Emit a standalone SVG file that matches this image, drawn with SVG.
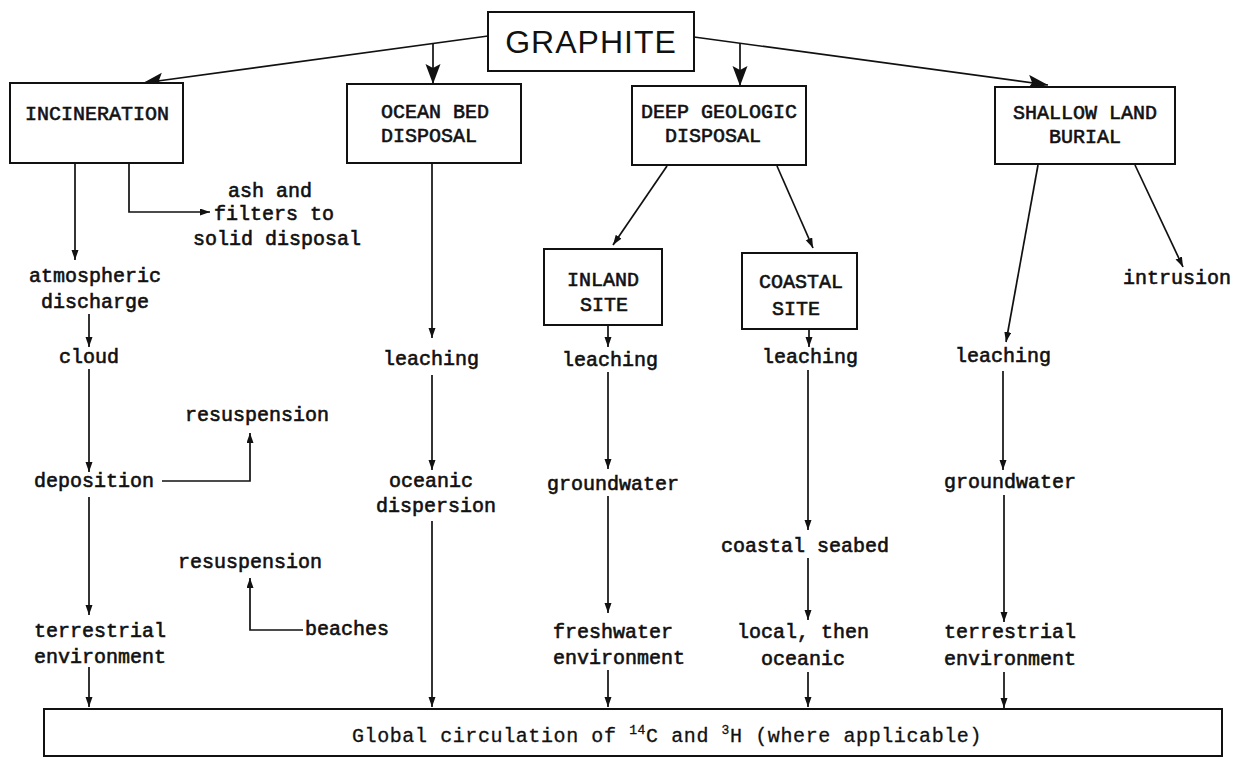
<svg xmlns="http://www.w3.org/2000/svg" width="1247" height="758" viewBox="0 0 1247 758">
<style>
.box{fill:#fff;stroke:#111;stroke-width:2}
.lbl{font-family:"Liberation Mono","DejaVu Sans Mono",monospace;font-size:20px;font-weight:normal;fill:#111;stroke:#111;stroke-width:0.6;text-anchor:middle}
.st{text-anchor:start}
.title{font-family:"Liberation Sans",Arial,sans-serif;font-size:32px;fill:#111;text-anchor:middle;letter-spacing:1px}
.glob{font-family:"Liberation Mono","DejaVu Sans Mono",monospace;font-size:20px;fill:#111;stroke:#111;stroke-width:0.3;text-anchor:middle;letter-spacing:0.6px}
.c{fill:none;stroke:#111;stroke-width:1.7}
.s{marker-end:url(#sa)}
.b{marker-end:url(#ba)}
</style>
<defs>
<marker id="sa" markerUnits="userSpaceOnUse" markerWidth="11" markerHeight="8" refX="10" refY="3.5" orient="auto"><path d="M0,0 L10,3.5 L0,7 z" fill="#111"/></marker>
<marker id="ba" markerUnits="userSpaceOnUse" markerWidth="22" markerHeight="16" refX="20" refY="7.5" orient="auto"><path d="M0,0 L20,7.5 L0,15 L4,7.5 z" fill="#111"/></marker>
</defs>
<rect width="1247" height="758" fill="#fff"/>
<g id="connectors">
<line class="c b" x1="488" y1="36" x2="143" y2="83"/>
<line class="c b" x1="694" y1="37" x2="1048" y2="85"/>
<line class="c b" x1="433" y1="44" x2="433" y2="84"/>
<line class="c b" x1="740" y1="43" x2="740" y2="86"/>
<line class="c s" x1="75" y1="163" x2="75" y2="260"/>
<path class="c s" d="M129,163 V212 H210"/>
<line class="c s" x1="89" y1="314" x2="89" y2="347"/>
<line class="c s" x1="89" y1="369" x2="89" y2="472"/>
<path class="c s" d="M162,481 H250 V433"/>
<line class="c s" x1="89" y1="497" x2="89" y2="615"/>
<line class="c s" x1="89" y1="667" x2="89" y2="707"/>
<path class="c s" d="M303,630 H250 V578"/>
<line class="c s" x1="432" y1="163" x2="432" y2="338"/>
<line class="c s" x1="432" y1="375" x2="432" y2="470"/>
<line class="c s" x1="432" y1="521" x2="432" y2="707"/>
<line class="c s" x1="667" y1="166" x2="613" y2="245"/>
<line class="c s" x1="777" y1="166" x2="813" y2="248"/>
<line class="c s" x1="608" y1="325" x2="608" y2="347"/>
<line class="c s" x1="608" y1="372" x2="608" y2="469"/>
<line class="c s" x1="608" y1="496" x2="608" y2="613"/>
<line class="c s" x1="608" y1="670" x2="608" y2="707"/>
<line class="c s" x1="809" y1="329" x2="809" y2="347"/>
<line class="c s" x1="808" y1="370" x2="808" y2="530"/>
<line class="c s" x1="808" y1="558" x2="808" y2="620"/>
<line class="c s" x1="808" y1="672" x2="808" y2="707"/>
<line class="c s" x1="1038" y1="165" x2="1006" y2="342"/>
<line class="c s" x1="1135" y1="165" x2="1183" y2="267"/>
<line class="c s" x1="1003" y1="371" x2="1003" y2="470"/>
<line class="c s" x1="1004" y1="495" x2="1004" y2="622"/>
<line class="c s" x1="1004" y1="672" x2="1004" y2="708"/>
</g>
<g id="graphite"><rect class="box" x="488" y="12" width="206" height="59"/><text class="title" x="591" y="53">GRAPHITE</text></g>
<g id="incineration"><rect class="box" x="10" y="83" width="173" height="80"/><text class="lbl" x="97" y="120">INCINERATION</text></g>
<g id="ocean-bed"><rect class="box" x="347" y="84" width="174" height="79"/><text class="lbl" x="435" y="118">OCEAN BED</text><text class="lbl" x="429" y="142">DISPOSAL</text></g>
<g id="deep-geologic"><rect class="box" x="632" y="86" width="174" height="79"/><text class="lbl" x="719" y="118">DEEP GEOLOGIC</text><text class="lbl" x="713" y="142">DISPOSAL</text></g>
<g id="shallow-land"><rect class="box" x="995" y="87" width="180" height="77"/><text class="lbl" x="1085" y="119">SHALLOW LAND</text><text class="lbl" x="1085" y="143">BURIAL</text></g>
<g id="inland-site"><rect class="box" x="544" y="249" width="118" height="76"/><text class="lbl" x="603" y="286">INLAND</text><text class="lbl" x="604" y="311">SITE</text></g>
<g id="coastal-site"><rect class="box" x="742" y="253" width="115" height="76"/><text class="lbl" x="801" y="288">COASTAL</text><text class="lbl" x="796" y="315">SITE</text></g>
<g id="ash"><text class="lbl" x="270" y="197">ash and</text><text class="lbl" x="274" y="220">filters to</text><text class="lbl" x="277" y="245">solid disposal</text></g>
<g id="atmospheric"><text class="lbl" x="95" y="282">atmospheric</text><text class="lbl" x="95" y="308">discharge</text></g>
<g id="cloud"><text class="lbl" x="89" y="363">cloud</text></g>
<g id="deposition"><text class="lbl" x="94" y="487">deposition</text></g>
<g id="resuspension-1"><text class="lbl" x="257" y="421">resuspension</text></g>
<g id="terrestrial-1"><text class="lbl" x="100" y="637">terrestrial</text><text class="lbl" x="100" y="663">environment</text></g>
<g id="resuspension-2"><text class="lbl" x="250" y="568">resuspension</text></g>
<g id="beaches"><text class="lbl st" x="305" y="635">beaches</text></g>
<g id="leaching-ocean"><text class="lbl" x="431" y="365">leaching</text></g>
<g id="oceanic-dispersion"><text class="lbl" x="431" y="487">oceanic</text><text class="lbl" x="436" y="512">dispersion</text></g>
<g id="leaching-inland"><text class="lbl" x="610" y="366">leaching</text></g>
<g id="groundwater-inland"><text class="lbl" x="613" y="490">groundwater</text></g>
<g id="freshwater"><text class="lbl" x="613" y="638">freshwater</text><text class="lbl" x="619" y="664">environment</text></g>
<g id="leaching-coastal"><text class="lbl" x="810" y="363">leaching</text></g>
<g id="coastal-seabed"><text class="lbl" x="805" y="552">coastal seabed</text></g>
<g id="local-oceanic"><text class="lbl" x="803" y="638">local, then</text><text class="lbl" x="803" y="665">oceanic</text></g>
<g id="leaching-shallow"><text class="lbl" x="1003" y="362">leaching</text></g>
<g id="groundwater-shallow"><text class="lbl" x="1010" y="488">groundwater</text></g>
<g id="terrestrial-2"><text class="lbl" x="1010" y="638">terrestrial</text><text class="lbl" x="1010" y="665">environment</text></g>
<g id="intrusion"><text class="lbl" x="1177" y="284">intrusion</text></g>
<g id="global"><rect class="box" x="44" y="709" width="1178" height="47"/><text class="glob" x="667" y="742">Global circulation of <tspan font-size="13" dy="-8">14</tspan><tspan dy="8">C and </tspan><tspan font-size="13" dy="-8">3</tspan><tspan dy="8">H (where applicable)</tspan></text></g>
</svg>
